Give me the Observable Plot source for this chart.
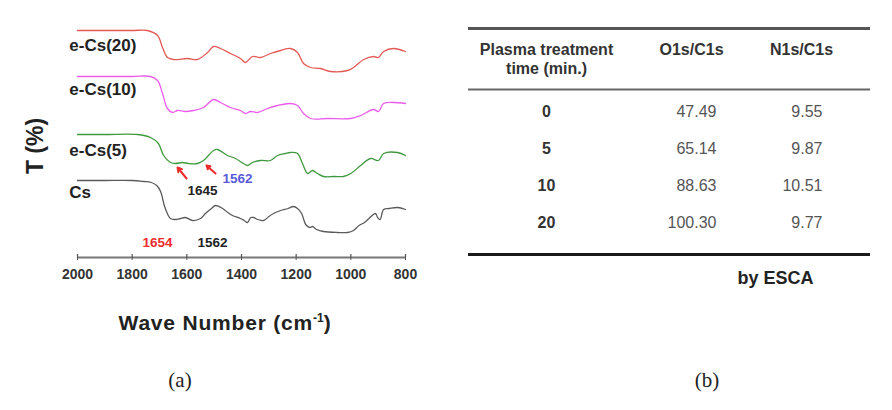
<!DOCTYPE html>
<html>
<head>
<meta charset="utf-8">
<script src="https://cdn.jsdelivr.net/npm/d3@7"></script>
<script src="https://cdn.jsdelivr.net/npm/@observablehq/plot@0.6"></script>
<style>
  html, body { margin: 0; padding: 0; background: #fff; }
  #page { position: relative; width: 892px; height: 410px; overflow: hidden; font-family: "Liberation Sans", Arial, sans-serif; }
  #ftir { position: absolute; left: 0; top: 0; }
  #table { position: absolute; left: 446px; top: 0; }
  .lbl { position: absolute; white-space: nowrap; }
  #ylab { left: 35px; top: 146px; transform: translate(-50%, -50%) rotate(-90deg); font-weight: bold; font-size: 23px; color: #222; }
  #xlab { left: 225px; top: 323px; transform: translate(-50%, -50%); font-weight: bold; font-size: 21px; letter-spacing: 0.8px; color: #222; }
  #xlab sup { font-size: 12px; vertical-align: 8px; letter-spacing: 0; }
  .cap { top: 380px; transform: translate(-50%, -50%); font-family: "Liberation Serif", "DejaVu Serif", serif; font-size: 21px; color: #222; }
</style>
</head>
<body>
<div id="page">
  <div id="ftir"></div>
  <div id="table"></div>
  <div class="lbl" id="ylab">T (%)</div>
  <div class="lbl" id="xlab">Wave Number (cm<sup>-1</sup>)</div>
  <div class="lbl cap" style="left:180px">(a)</div>
  <div class="lbl cap" style="left:707px">(b)</div>
</div>
<script>
// ---------- FTIR spectra (a): wavenumber (cm-1) and transmittance (arbitrary offset units) ----------
const csWn  = [2000,1900,1800,1758,1730,1710,1696,1680,1660,1640,1623,1605,1579,1550,1532,1510,1495,1469,1450,1433,1404,1390,1378,1366,1356,1340,1319,1300,1283,1257,1230,1210,1195,1180,1165,1150,1140,1125,1100,1050,1012,990,970,950,930,910,902,893,880,860,829,800];
const csT   = [77,77,77,76,75,72,66,50,39,38,39,40,37,39,44,49,52,49,45,42,39,37,35,40,40,38,37,41,44,47,49,51,49,44,33,30,31,28,26,25,25,27,32,35,40,44,40,38,48,49,50,48];

const cs5Wn = [2000,1900,1780,1733,1704,1685,1660,1641,1616,1594,1561,1539,1502,1488,1451,1422,1393,1378,1360,1330,1294,1268,1240,1221,1195,1177,1158,1140,1122,1100,1060,1027,1000,964,928,899,880,829,800];
const cs5T  = [123,123,123,120,114,102,95,94,95,94,94,97,107,108,102,99,94,92,95,97,97,102,104,105,104,94,84,87,84,81,81,81,84,92,99,97,104,105,102];

const cs10Wn = [2000,1900,1800,1733,1707,1689,1671,1652,1634,1605,1576,1539,1502,1477,1440,1404,1385,1367,1341,1305,1268,1221,1195,1173,1147,1085,1001,964,917,899,880,844,800];
const cs10T  = [181,181,181,181,177,164,149,145,147,146,147,150,158,155,150,147,144,146,145,149,152,154,152,144,139,139,139,142,148,146,154,155,154];

const cs20Wn = [2000,1900,1800,1744,1707,1689,1671,1649,1598,1561,1524,1502,1477,1440,1404,1385,1360,1330,1294,1257,1221,1195,1173,1147,1111,1074,1012,990,953,917,899,880,844,800];
const cs20T  = [227,227,227,227,222,210,200,198,199,198,205,211,209,204,199,195,201,200,204,207,209,205,194,190,189,186,187,190,198,201,200,206,209,206];

const seriesNames  = ["Cs", "e-Cs(5)", "e-Cs(10)", "e-Cs(20)"];
const seriesColors = ["#5a5a5a", "#3f9a3f", "#ea5cea", "#e35a55"];
const seriesWn = [csWn, cs5Wn, cs10Wn, cs20Wn];
const seriesT  = [csT, cs5T, cs10T, cs20T];
const labelWn  = [2030, 2030, 2030, 2030];
const labelT   = [65, 107, 168, 212];

const xTicks = [2000, 1800, 1600, 1400, 1200, 1000, 800];

// peak annotations
const annText  = ["1645", "1562", "1654", "1562"];
const annWn    = [1543, 1415, 1707, 1506];
const annT     = [67, 79, 15, 15];
const annColor = ["#222", "#5a5ad8", "#ee2b2b", "#222"];
// arrows (tail -> head)
const arrowWn1 = [1601, 1495];
const arrowT1  = [79, 84];
const arrowWn2 = [1634, 1528];
const arrowT2  = [90, 92];

const spectra = seriesNames.flatMap((name, s) =>
  seriesWn[s].map((wn, i) => ({name, wn, t: seriesT[s][i]})));
const labels = seriesNames.map((name, i) => ({name, wn: labelWn[i], t: labelT[i]}));
const anns = annText.map((text, i) => ({text, wn: annWn[i], t: annT[i], color: annColor[i]}));
const arrows = arrowWn1.map((w, i) => ({x1: w, y1: arrowT1[i], x2: arrowWn2[i], y2: arrowT2[i]}));

const ftir = Plot.plot({
  width: 450, height: 300,
  marginLeft: 77, marginRight: 45, marginTop: 20, marginBottom: 43,
  style: {fontFamily: "'Liberation Sans', Arial, sans-serif", background: "transparent"},
  x: {domain: [2000, 800]},
  y: {domain: [0, 237], axis: null},
  color: {domain: seriesNames, range: seriesColors},
  marks: [
    Plot.ruleY([0], {stroke: "#777", strokeWidth: 2}),
    Plot.ruleX(xTicks, {x: d => d, y1: 0, y2: 3, stroke: "#555", strokeWidth: 1.2}),
    Plot.axisX({ticks: xTicks, tickFormat: d => String(d), tickSize: 3, tickPadding: 9, fontSize: 14, fontWeight: "bold", fill: "#333", stroke: "#555", label: null}),
    Plot.line(spectra, {x: "wn", y: "t", z: "name", stroke: "name", strokeWidth: 1.3, curve: "catmull-rom"}),
    Plot.text(labels, {x: "wn", y: "t", text: "name", textAnchor: "start", fontSize: 17, fontWeight: "bold", fill: "#222"}),
    Plot.text(anns, {x: "wn", y: "t", text: "text", fill: "color", fontSize: 13.5, fontWeight: "bold"}),
    Plot.arrow(arrows, {x1: "x1", y1: "y1", x2: "x2", y2: "y2", stroke: "#ee2b2b", strokeWidth: 2, headLength: 7, bend: 0})
  ]
});
document.getElementById("ftir").append(ftir);

// ---------- ESCA table (b) ----------
const columns = ["Plasma treatment\ntime (min.)", "O1s/C1s", "N1s/C1s"];
const times   = ["0", "5", "10", "20"];
const o1sC1s  = ["47.49", "65.14", "88.63", "100.30"];
const n1sC1s  = ["9.55", "9.87", "10.51", "9.77"];
const note    = "by ESCA";

const rows = times.map((t, i) => ({t, o: o1sC1s[i], n: n1sC1s[i]}));

const table = Plot.plot({
  width: 446, height: 300,
  marginLeft: 22, marginRight: 22, marginTop: 110, marginBottom: 77,
  style: {fontFamily: "'Liberation Sans', Arial, sans-serif", background: "transparent", overflow: "visible"},
  x: {type: "band", domain: columns, padding: 0, axis: null},
  y: {type: "point", domain: times, padding: 0, axis: null},
  marks: [
    Plot.ruleY([times[0]], {dy: -83, stroke: "#555", strokeWidth: 3}),
    Plot.ruleY([times[0]], {dy: -22, stroke: "#666", strokeWidth: 2}),
    Plot.ruleY([times[times.length - 1]], {dy: 32, stroke: "#1a1a1a", strokeWidth: 3}),
    Plot.text([columns[0]], {x: d => d, y: () => times[0], dx: 11, dy: -53, lineHeight: 1.2, fontSize: 16, fontWeight: "bold", fill: "#333"}),
    Plot.text([columns[1]], {x: d => d, y: () => times[0], dx: 22, dy: -62, fontSize: 16, fontWeight: "bold", fill: "#333"}),
    Plot.text([columns[2]], {x: d => d, y: () => times[0], dx: -2, dy: -62, fontSize: 16, fontWeight: "bold", fill: "#333"}),
    Plot.text(rows, {x: () => columns[0], y: "t", text: "t", dx: 11, fontSize: 16, fontWeight: "bold", fill: "#333"}),
    Plot.text(rows, {x: () => columns[1], y: "t", text: "o", dx: 47, textAnchor: "end", fontSize: 16, fill: "#555"}),
    Plot.text(rows, {x: () => columns[2], y: "t", text: "n", dx: 19, textAnchor: "end", fontSize: 16, fill: "#555"}),
    Plot.text([note], {x: () => columns[2], y: () => times[times.length - 1], dx: -28, dy: 56, fontSize: 18, fontWeight: "bold", fill: "#222"})
  ]
});
document.getElementById("table").append(table);
</script>
</body>
</html>
